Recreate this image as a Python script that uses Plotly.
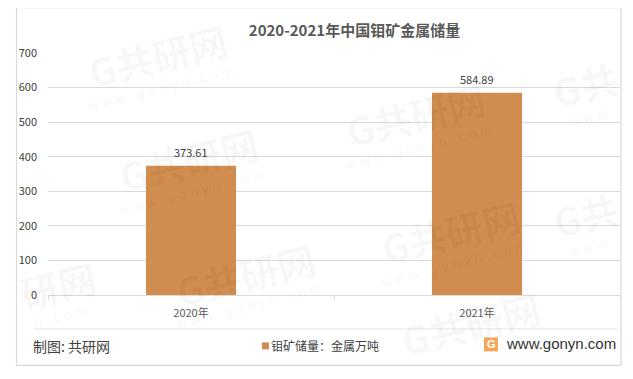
import plotly.graph_objects as go

# The page adds an 8 px body margin, so the figure is sized and placed to fit inside it.
PAGE = 8
W, H = 633 - 2 * PAGE, 379 - 2 * PAGE
L, R, T, B = 48, 620, 53, 295.5

categories = ["2020年", "2021年"]
reserves = [373.61, 584.89]
value_labels = ["373.61", "584.89"]
y_ticks = [0, 100, 200, 300, 400, 500, 600, 700]
series_name = "钼矿储量：金属万吨"
title_text = "2020-2021年中国钼矿金属储量"
source_text = "制图: 共研网"
site_text = "www.gonyn.com"
WM_FULL = "G共研网"
WM_URL = "w w w . g o n y n . c o m"
wm_items = [
    (157, 56, WM_FULL, WM_URL),
    (188, 160, WM_FULL, WM_URL),
    (415, 115, WM_FULL, WM_URL),
    (585, 85, "G共", "w w w"),
    (450, 232, WM_FULL, WM_URL),
    (58, 285, "研网", "n . c o m"),
    (245, 275, WM_FULL, WM_URL),
    (585, 215, "G共", "w w w"),
    (470, 324, WM_FULL, ""),
]

FONT = "Noto Sans CJK SC"
def px(x):
    return (x - L) / (R - L)
def py(y):
    return 1 - (y - T) / (B - T)

fig = go.Figure(go.Bar(
    x=categories, y=reserves, name=series_name, showlegend=False,
    marker=dict(color="#D18C4F", line_width=0), width=0.315,
))

shapes = [
    dict(type="rect", xref="paper", yref="paper", x0=px(16.5), x1=px(621), y0=py(366), y1=py(7.5),
         line=dict(color="#D9D9D9", width=1.2), fillcolor="rgba(0,0,0,0)", layer="above"),
    dict(type="line", xref="paper", yref="paper", x0=px(33), x1=px(617), y0=py(329.5), y1=py(329.5),
         line=dict(color="#E4E4E4", width=1)),
    dict(type="rect", xref="paper", yref="paper", x0=px(484), x1=px(498), y0=py(352), y1=py(338),
         line_width=0, fillcolor="#F5A65B", layer="above"),
    dict(type="rect", xref="paper", yref="paper", x0=px(262), x1=px(269), y0=py(350), y1=py(343),
         line_width=0, fillcolor="#D18C4F", layer="above"),
]
ann = []
for x, y, mark, url in wm_items:
    ann.append(dict(xref="paper", yref="paper", x=px(x), y=py(y), xanchor="center", yanchor="middle",
                    text=mark, showarrow=False, textangle=-14,
                    font=dict(family=FONT, size=38, color="rgba(0,0,0,0.035)", weight=700)))
    if url:
        ann.append(dict(xref="paper", yref="paper", x=px(x+3), y=py(y+32), xanchor="center", yanchor="middle",
                        text=url, showarrow=False, textangle=-14,
                        font=dict(family="Liberation Sans", size=14, color="rgba(0,0,0,0.05)")))
for cat, val, lab in zip(categories, reserves, value_labels):
    ann.append(dict(x=cat, y=val, xref="x", yref="y", text=lab, showarrow=False, yshift=14,
                    xanchor="center", yanchor="middle",
                    font=dict(family=FONT, size=11, color="#404040")))
ann += [
    dict(xref="paper", yref="paper", x=px(31), y=py(346.5), xanchor="left", yanchor="middle", text=source_text,
         showarrow=False, font=dict(family=FONT, size=14, color="#404040")),
    dict(xref="paper", yref="paper", x=px(269), y=py(346.5), xanchor="left", yanchor="middle", text=series_name,
         showarrow=False, font=dict(family=FONT, size=12, color="#404040")),
    dict(xref="paper", yref="paper", x=px(491), y=py(345), xanchor="center", yanchor="middle", text="<b>G</b>",
         showarrow=False, font=dict(family="Liberation Sans", size=11, color="#FFFFFF")),
    dict(xref="paper", yref="paper", x=px(504), y=py(344.5), xanchor="left", yanchor="middle", text=site_text,
         showarrow=False, font=dict(family="Liberation Sans", size=15, color="#333333")),
]

fig.update_layout(
    width=W, height=H, autosize=False,
    paper_bgcolor="white", plot_bgcolor="rgba(0,0,0,0)",
    margin=dict(l=L-PAGE, r=W-(R-PAGE), t=T-PAGE, b=H-(B-PAGE), pad=0),
    title=dict(text="<b>%s</b>" % title_text, x=(354.5-PAGE)/W, xanchor="center", y=1-(31-PAGE)/H, yanchor="middle",
               font=dict(family=FONT, size=15, color="#595959")),
    showlegend=False,
    xaxis=dict(type="category", showline=True, linecolor="#D9D9D9", linewidth=1, ticks="outside",
               tickson="boundaries", tickcolor="#D9D9D9", ticklen=4, automargin=False,
               tickfont=dict(family=FONT, size=11, color="#595959"), ticklabelstandoff=8),
    yaxis=dict(range=[0, 700], tickvals=y_ticks, showgrid=True, gridcolor="#D9D9D9", gridwidth=1,
               zeroline=False, showline=False, ticks="", automargin=False,
               tickfont=dict(family=FONT, size=11, color="#404040"), ticklabelstandoff=10),
    shapes=shapes, annotations=ann,
)
fig.write_html("out.html")
